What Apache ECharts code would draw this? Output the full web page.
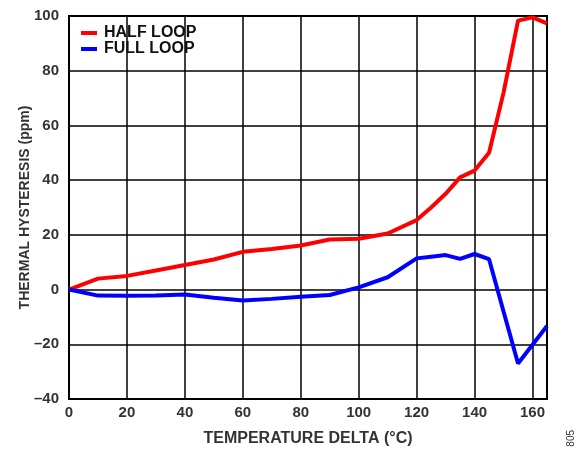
<!DOCTYPE html>
<html><head><meta charset="utf-8">
<script src="https://cdn.jsdelivr.net/npm/echarts@6/dist/echarts.min.js"></script>
<style>html,body{margin:0;padding:0;background:#fff}#c{width:585px;height:449px}</style>
</head><body><div id="c"></div>
<script>
const temps = [0,10,20,30,40,50,60,70,80,90,100,110,120,125,130,135,140,145,150,155,160,165];
const halfLoop = [0,4,5,7,9,11,13.8,14.8,16.1,18.3,18.6,20.5,25.4,30,35,41,43.5,50,72,98.3,99.5,97.3];
const fullLoop = [0,-2.2,-2.3,-2.2,-1.8,-3,-4,-3.4,-2.6,-2.0,0.8,4.5,11.4,12,12.6,11.2,13,11.1,-8,-27,-20.2,-13.3];
const seriesNames = ['HALF LOOP','FULL LOOP'];
const xTitle = 'TEMPERATURE DELTA (°C)';
const yTitle = 'THERMAL HYSTERESIS (ppm)';
const figNo = '805';

const font = 'Liberation Sans, Arial, sans-serif';
const txt = '#333333';
const fmt = v => String(v).replace('-', '\u2013');
const chart = echarts.init(document.getElementById('c'), null, {renderer:'canvas'});
chart.setOption({
  animation:false,
  grid:{left:69, top:16, right:38, bottom:50, show:true, borderColor:'#000', borderWidth:2,
        backgroundColor:'transparent', containLabel:false, outerBoundsMode:'none'},
  legend:{
    left:76, top:20, orient:'vertical', itemGap:0, itemWidth:16, itemHeight:4,
    icon:'rect',
    textStyle:{fontFamily:font, fontWeight:'bold', fontSize:16, color:'#111', padding:[0,0,0,2]},
    data:seriesNames
  },
  xAxis:{
    type:'value', min:0, max:165, interval:20,
    axisLine:{show:false}, axisTick:{show:false},
    splitLine:{show:true, lineStyle:{color:'#000', width:1.5}},
    axisLabel:{fontFamily:font, fontWeight:'bold', fontSize:15, color:txt, margin:6, showMaxLabel:false, formatter:fmt},
    name:xTitle, nameLocation:'middle', nameGap:32, nameMoveOverlap:false,
    nameTextStyle:{fontFamily:font, fontWeight:'bold', fontSize:16, color:txt}
  },
  yAxis:{
    type:'value', min:-40, max:100, interval:20,
    axisLine:{show:false}, axisTick:{show:false},
    splitLine:{show:true, lineStyle:{color:'#000', width:1.5}},
    axisLabel:{fontFamily:font, fontWeight:'bold', fontSize:15, color:txt, margin:10, formatter:fmt},
    name:yTitle, nameLocation:'middle', nameGap:37, nameMoveOverlap:false,
    nameTextStyle:{fontFamily:font, fontWeight:'bold', fontSize:14, color:txt}
  },
  graphic:[{type:'text', left:566, top:430, rotation:Math.PI/2,
    style:{text:figNo, fontFamily:font, fontSize:10, fill:'#333'}}],
  series:[
    {name:seriesNames[0], type:'line', showSymbol:false, symbol:'none', color:'#ff0000',
     lineStyle:{width:4, color:'#ff0000'}, data:temps.map((t,i)=>[t,halfLoop[i]])},
    {name:seriesNames[1], type:'line', showSymbol:false, symbol:'none', color:'#0000ff',
     lineStyle:{width:4, color:'#0000ff'}, data:temps.map((t,i)=>[t,fullLoop[i]])}
  ]
});
</script></body></html>
